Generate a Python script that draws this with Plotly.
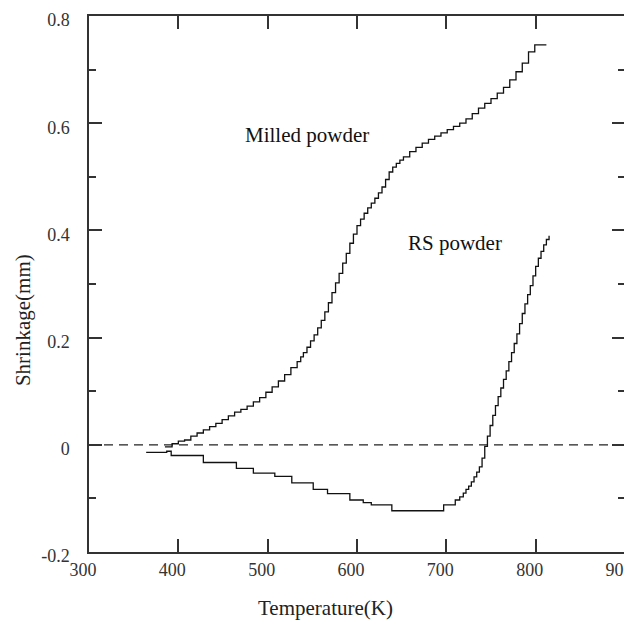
import plotly.graph_objects as go

# ---- data ----
milled_T = [385, 393, 400, 407, 414, 421, 428, 435, 442, 449, 456, 463, 470, 477, 484,
            491, 498, 505, 512, 519, 526, 533, 537, 540, 544, 548, 552, 556, 560, 564,
            568, 572, 576, 580, 584, 588, 592, 596, 600, 604, 608, 612, 616, 620, 624,
            628, 632, 636, 640, 644, 648, 652, 659, 666, 673, 680, 687, 694,
            701, 708, 715, 722, 729, 736, 743, 750, 757, 764, 771, 778, 785, 792, 799, 812]
milled_S = [-0.004, 0.002, 0.007, 0.009, 0.016, 0.022, 0.028, 0.034, 0.040, 0.047, 0.054,
            0.061, 0.066, 0.072, 0.080, 0.088, 0.098, 0.108, 0.119, 0.131, 0.144, 0.155,
            0.164, 0.172, 0.182, 0.194, 0.205, 0.218, 0.232, 0.248, 0.265, 0.284, 0.302,
            0.320, 0.339, 0.357, 0.376, 0.393, 0.409, 0.421, 0.432, 0.442, 0.451, 0.460,
            0.470, 0.481, 0.495, 0.509, 0.518, 0.525, 0.531, 0.537, 0.547, 0.555, 0.563,
            0.570, 0.576, 0.582, 0.588, 0.594, 0.600, 0.608, 0.618, 0.628, 0.637, 0.646,
            0.656, 0.667, 0.681, 0.696, 0.712, 0.733, 0.746, 0.746]

rs_T = [364, 387, 392, 428, 465, 484, 508, 527, 551, 567, 592, 607, 616, 639, 697, 710,
        715, 719, 722, 725, 728, 731, 734, 737, 740, 743, 746, 749, 752, 755, 758, 761,
        764, 767, 770, 773, 776, 779, 782, 785, 788, 791, 794, 797, 800, 803, 806, 809,
        812, 815]
rs_S = [-0.014, -0.012, -0.020, -0.033, -0.044, -0.053, -0.059, -0.071, -0.083, -0.091,
        -0.103, -0.108, -0.112, -0.123, -0.112, -0.103, -0.097, -0.090, -0.083, -0.077,
        -0.069, -0.060, -0.051, -0.041, -0.025, -0.003, 0.016, 0.036, 0.055, 0.073,
        0.090, 0.106, 0.122, 0.138, 0.155, 0.172, 0.189, 0.207, 0.226, 0.245, 0.263,
        0.280, 0.297, 0.315, 0.333, 0.348, 0.361, 0.373, 0.383, 0.390]

baseline_T = [300, 900]
baseline_S = [0, 0]

x_tickvals = [300, 400, 500, 600, 700, 800, 900]
x_ticktext = ["300", "400", "500", "600", "700", "800", "900"]
y_tickvals = [-0.2, 0, 0.2, 0.4, 0.6, 0.8]
y_ticktext = ["-0.2", "0", "0.2", "0.4", "0.6", "0.8"]

labels = ["Milled powder", "RS powder"]
label_T = [543.5, 710]
label_S = [0.578, 0.3765]

FONT = "Liberation Serif, Times New Roman, serif"
AX = "#333333"

fig = go.Figure()
fig.add_trace(go.Scatter(x=baseline_T, y=baseline_S, mode="lines",
                         line=dict(color="#222222", width=1.3, dash="9px,6px"),
                         showlegend=False, hoverinfo="skip"))
fig.add_trace(go.Scatter(x=milled_T, y=milled_S, mode="lines", name="Milled powder",
                         line=dict(color="#111111", width=1.3, shape="hv"), showlegend=False))
fig.add_trace(go.Scatter(x=rs_T, y=rs_S, mode="lines", name="RS powder",
                         line=dict(color="#111111", width=1.3, shape="hv"), showlegend=False))

for txt, tx, ty in zip(labels, label_T, label_S):
    fig.add_annotation(x=tx, y=ty, text=txt, showarrow=False,
                       xanchor="center", yanchor="middle",
                       font=dict(family=FONT, size=21, color="#111111"))

fig.add_annotation(xref="paper", yref="paper", x=0.4403, y=-0.1045, text="Temperature(K)",
                   xanchor="center", yanchor="middle",
                   showarrow=False, font=dict(family=FONT, size=21, color="#222222"))
fig.add_annotation(xref="paper", yref="paper", x=-0.123, y=0.4328, text="Shrinkage(mm)",
                   xanchor="center", yanchor="middle",
                   textangle=-90, showarrow=False,
                   font=dict(family=FONT, size=21, color="#222222"))

axis_common = dict(showline=True, linecolor=AX, linewidth=1.5, mirror="ticks",
                   ticks="inside", tickcolor=AX, tickwidth=1.5, showgrid=False,
                   zeroline=False, automargin=False, ticklabeloverflow="allow",
                   tickfont=dict(family=FONT, size=18, color="#333333"))

fig.update_xaxes(range=[300, 900], tickvals=x_tickvals, ticktext=x_ticktext, ticklen=13,
                 ticklabelstandoff=1, ticklabelshift=-6, **axis_common)
fig.update_yaxes(range=[-0.2, 0.8], tickvals=y_tickvals, ticktext=y_ticktext, ticklen=13,
                 ticklabelstandoff=14, ticklabelshift=4,
                 minor=dict(dtick=0.1, tick0=0, ticks="inside", ticklen=7,
                            tickcolor=AX, tickwidth=1.5, showgrid=False),
                 **axis_common)

# the page body adds an 8px offset, so the figure is 8px smaller and margins compensate
fig.update_layout(width=624, height=613, margin=dict(l=81, r=7, t=8, b=69),
                  paper_bgcolor="white", plot_bgcolor="white", showlegend=False)

fig.write_html("out.html")
